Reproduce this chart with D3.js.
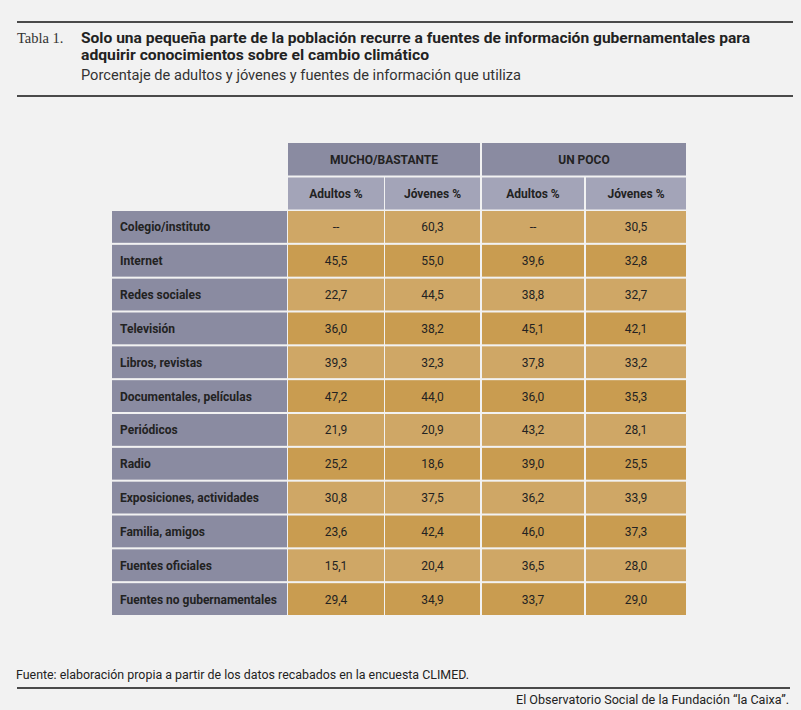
<!DOCTYPE html>
<html><head><meta charset="utf-8">
<script src="https://cdn.jsdelivr.net/npm/d3@7"></script>
<style>html,body{margin:0;padding:0;background:#f2f2f2;}svg{display:block;}</style>
</head><body><div id="chart"></div>
<script>
const categories = ["Colegio/instituto","Internet","Redes sociales","Televisión","Libros, revistas","Documentales, películas","Periódicos","Radio","Exposiciones, actividades","Familia, amigos","Fuentes oficiales","Fuentes no gubernamentales"];
const groups = ["MUCHO/BASTANTE","UN POCO"];
const subHeaders = ["Adultos %","Jóvenes %","Adultos %","Jóvenes %"];
const muchoAdultos = ["--","45,5","22,7","36,0","39,3","47,2","21,9","25,2","30,8","23,6","15,1","29,4"];
const muchoJovenes = ["60,3","55,0","44,5","38,2","32,3","44,0","20,9","18,6","37,5","42,4","20,4","34,9"];
const pocoAdultos  = ["--","39,6","38,8","45,1","37,8","36,0","43,2","39,0","36,2","46,0","36,5","33,7"];
const pocoJovenes  = ["30,5","32,8","32,7","42,1","33,2","35,3","28,1","25,5","33,9","37,3","28,0","29,0"];
const columns = ["c0","c1","c2","c3"];
const colValues = [muchoAdultos, muchoJovenes, pocoAdultos, pocoJovenes];

const W = 801, H = 710;
const svg = d3.select("#chart").append("svg").attr("width", W).attr("height", H);
svg.append("rect").attr("width", W).attr("height", H).attr("fill", "#f2f2f2");

const sans = "'Roboto', 'Liberation Sans', sans-serif";
const dark = "#222";

// Header rules
svg.append("rect").attr("x", 17).attr("y", 21).attr("width", 776).attr("height", 2).attr("fill", "#4a4a4a");
svg.append("rect").attr("x", 17).attr("y", 95).attr("width", 776).attr("height", 2).attr("fill", "#4a4a4a");
svg.append("rect").attr("x", 17).attr("y", 687).attr("width", 773).attr("height", 2).attr("fill", "#4a4a4a");

svg.append("text").attr("x", 17).attr("y", 43).attr("font-family", "'Liberation Serif', serif").attr("font-size", 14.5).attr("fill", "#333").text("Tabla 1.");
svg.append("text").attr("x", 81).attr("y", 43).attr("font-family", sans).attr("font-weight", "bold").attr("font-size", 14.5).attr("fill", dark)
  .attr("textLength", 669).attr("lengthAdjust", "spacingAndGlyphs")
  .text("Solo una pequeña parte de la población recurre a fuentes de información gubernamentales para");
svg.append("text").attr("x", 81).attr("y", 60).attr("font-family", sans).attr("font-weight", "bold").attr("font-size", 14.5).attr("fill", dark)
  .attr("textLength", 348).attr("lengthAdjust", "spacingAndGlyphs")
  .text("adquirir conocimientos sobre el cambio climático");
svg.append("text").attr("x", 81).attr("y", 80).attr("font-family", sans).attr("font-size", 14).attr("fill", "#333")
  .attr("textLength", 440).attr("lengthAdjust", "spacingAndGlyphs")
  .text("Porcentaje de adultos y jóvenes y fuentes de información que utiliza");

svg.append("text").attr("x", 16).attr("y", 679).attr("font-family", sans).attr("font-size", 12).attr("fill", dark)
  .attr("textLength", 453).attr("lengthAdjust", "spacingAndGlyphs")
  .text("Fuente: elaboración propia a partir de los datos recabados en la encuesta CLIMED.");
svg.append("text").attr("x", 789).attr("y", 704).attr("text-anchor", "end").attr("font-family", sans).attr("font-size", 12).attr("fill", dark)
  .attr("textLength", 273).attr("lengthAdjust", "spacingAndGlyphs")
  .text("El Observatorio Social de la Fundación “la Caixa”.");

// Scales
const y = d3.scaleBand().domain(categories).range([211, 615]).paddingInner(0.06).paddingOuter(0);
const colStart = d3.scaleOrdinal().domain(columns).range([288, 385, 482, 586]);
const colEnd = d3.scaleOrdinal().domain(columns).range([384, 480, 584, 686]);
const labelX0 = 112, labelX1 = 287;

const headTop = 143, headH = 32.5, subTop = 177.5, subH = 32;
const c1 = "#8a8ba1", c2 = "#a3a4b8", tanLight = "#cfa766", tanDark = "#c99c50";

// top headers
groups.forEach((g, i) => {
  const x0 = colStart(columns[i*2]), x1 = colEnd(columns[i*2+1]);
  svg.append("rect").attr("x", x0).attr("y", headTop).attr("width", x1 - x0).attr("height", headH).attr("fill", c1);
  svg.append("text").attr("x", (x0 + x1) / 2).attr("y", headTop + headH/2 + 4.5).attr("text-anchor", "middle")
    .attr("font-family", sans).attr("font-weight", "bold").attr("font-size", 12).attr("fill", dark).text(g);
});
// sub headers
columns.forEach((c, i) => {
  svg.append("rect").attr("x", colStart(c)).attr("y", subTop).attr("width", colEnd(c) - colStart(c)).attr("height", subH).attr("fill", c2);
  svg.append("text").attr("x", (colStart(c) + colEnd(c)) / 2).attr("y", subTop + subH/2 + 4.5).attr("text-anchor", "middle")
    .attr("font-family", sans).attr("font-weight", "bold").attr("font-size", 12).attr("fill", dark).text(subHeaders[i]);
});

// rows
const rows = svg.selectAll("g.row").data(categories).join("g").attr("class", "row")
  .attr("transform", d => `translate(0,${y(d)})`);
rows.append("rect").attr("x", labelX0).attr("y", 0).attr("width", labelX1 - labelX0).attr("height", y.bandwidth()).attr("fill", c1);
rows.append("text").attr("x", labelX0 + 8).attr("y", y.bandwidth()/2 + 4.5)
  .attr("font-family", sans).attr("font-weight", "bold").attr("font-size", 12).attr("fill", dark).text(d => d);

rows.each(function(cat, ri) {
  const g = d3.select(this);
  columns.forEach((c, ci) => {
    g.append("rect").attr("x", colStart(c)).attr("y", 0).attr("width", colEnd(c) - colStart(c)).attr("height", y.bandwidth())
      .attr("fill", ri % 2 === 0 ? tanLight : tanDark);
    g.append("text").attr("x", (colStart(c) + colEnd(c)) / 2).attr("y", y.bandwidth()/2 + 4.5).attr("text-anchor", "middle")
      .attr("font-family", sans).attr("font-size", 12).attr("fill", dark).text(colValues[ci][ri]);
  });
});
</script></body></html>
